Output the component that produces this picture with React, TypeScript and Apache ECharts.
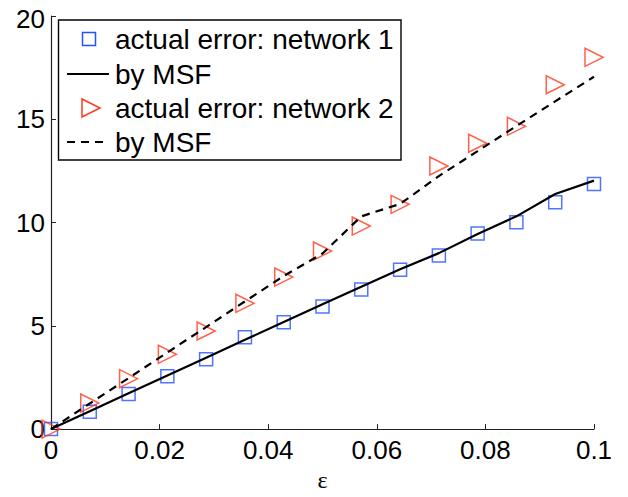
import React, { useEffect, useRef } from "react";
import * as echarts from "echarts";

const xValues = [0, 0.00714, 0.01429, 0.02143, 0.02857, 0.03571, 0.04286, 0.05, 0.05714, 0.06429, 0.07143, 0.07857, 0.08571, 0.09286, 0.1];
const net1Actual = [0, 0.84, 1.7, 2.56, 3.38, 4.45, 5.17, 5.93, 6.76, 7.71, 8.41, 9.47, 10.02, 10.98, 11.87];
const net1MSF = [0, 0.86, 1.73, 2.59, 3.46, 4.32, 5.19, 6.05, 6.89, 7.74, 8.52, 9.45, 10.3, 11.38, 12.03];
const net2Actual = [0, 1.26, 2.44, 3.62, 4.75, 6.09, 7.36, 8.62, 9.83, 10.88, 12.74, 13.84, 14.66, 16.67, 18.0];
const net2MSF = [0, 1.24, 2.47, 3.71, 4.94, 6.18, 7.41, 8.5, 10.3, 10.9, 12.25, 13.46, 14.67, 15.87, 17.06];

const legendLabels = ["actual error: network 1", "by MSF", "actual error: network 2", "by MSF"];
const xTicks = { min: 0, max: 0.1, interval: 0.02 };
const yTicks = { min: 0, max: 20, interval: 5 };
const xAxisTitle = "ε";

const BLUE = "#2353ff";
const RED = "#ff3a1c";
const FONT = "Liberation Sans, Arial, Helvetica, sans-serif";

const pairs = (ys: number[]) => xValues.map((x, i) => [x, ys[i]]);

export default function App() {
  const ref = useRef<HTMLDivElement>(null);
  useEffect(() => {
    document.body.style.margin = "0";
    if (!ref.current) return;
    const chart = echarts.init(ref.current, undefined, { renderer: "svg" });
    const rowY = [39, 74, 108, 142];
    const textX = 115;
    chart.setOption({
      animation: false,
      backgroundColor: "#fff",
      grid: { left: 51, right: 34, top: 13, bottom: 60, containLabel: false },
      xAxis: {
        type: "value",
        min: xTicks.min,
        max: xTicks.max,
        interval: xTicks.interval,
        name: xAxisTitle,
        nameLocation: "middle",
        nameGap: 25,
        nameTextStyle: { fontFamily: "Liberation Serif, serif", fontSize: 24, color: "#000" },
        axisLine: { show: true, lineStyle: { color: "#222", width: 1.2 } },
        axisTick: { show: true, inside: true, length: 5, lineStyle: { color: "#222" } },
        axisLabel: {
          fontFamily: FONT,
          fontSize: 26,
          color: "#000",
          margin: 8,
          formatter: (v: number) => String(parseFloat(v.toFixed(4))),
        },
        splitLine: { show: false },
      },
      yAxis: {
        type: "value",
        min: yTicks.min,
        max: yTicks.max,
        interval: yTicks.interval,
        axisLine: { show: true, lineStyle: { color: "#222", width: 1.2 } },
        axisTick: { show: true, inside: true, length: 5, lineStyle: { color: "#222" } },
        axisLabel: {
          fontFamily: FONT,
          fontSize: 26,
          lineHeight: 22,
          color: "#000",
          margin: 6,
          formatter: (v: number) => (v === yTicks.max ? `{top|${v}}` : String(v)),
          rich: {
            top: { fontFamily: FONT, fontSize: 26, lineHeight: 22, color: "#000", padding: [6, 0, 0, 0] },
          },
        },
        splitLine: { show: false },
      },
      series: [
        {
          name: legendLabels[0],
          type: "scatter",
          data: pairs(net1Actual),
          symbol: "rect",
          symbolSize: 13,
          clip: false,
          itemStyle: { color: "transparent", borderColor: BLUE, borderWidth: 1.5 },
          z: 2,
        },
        {
          name: legendLabels[1],
          type: "line",
          data: pairs(net1MSF),
          symbol: "none",
          clip: false,
          lineStyle: { color: "#000", width: 2.2 },
          z: 3,
        },
        {
          name: legendLabels[2],
          type: "scatter",
          data: pairs(net2Actual),
          symbol: "triangle",
          symbolRotate: -90,
          symbolSize: 18,
          clip: false,
          itemStyle: { color: "transparent", borderColor: RED, borderWidth: 1.5 },
          z: 2,
        },
        {
          name: legendLabels[3] + " ",
          type: "line",
          data: pairs(net2MSF),
          symbol: "none",
          clip: false,
          lineStyle: { color: "#000", width: 2.2, type: [8, 6] },
          z: 3,
        },
      ],
      graphic: [
        {
          type: "group",
          z: 100,
          children: [
            {
              type: "rect",
              shape: { x: 58.5, y: 20, width: 342.5, height: 140 },
              style: { fill: "#fff", stroke: "#000", lineWidth: 1.4 },
            },
            {
              type: "rect",
              shape: { x: 82.5, y: rowY[0] - 6.5, width: 13, height: 13 },
              style: { fill: "none", stroke: BLUE, lineWidth: 1.5 },
            },
            {
              type: "line",
              shape: { x1: 67, y1: rowY[1], x2: 109, y2: rowY[1] },
              style: { stroke: "#000", lineWidth: 2.2 },
            },
            {
              type: "polygon",
              shape: { points: [[82, rowY[2] - 9], [100, rowY[2]], [82, rowY[2] + 9]] },
              style: { fill: "none", stroke: RED, lineWidth: 1.5 },
            },
            {
              type: "line",
              shape: { x1: 67, y1: rowY[3], x2: 109, y2: rowY[3] },
              style: { stroke: "#000", lineWidth: 2.2, lineDash: [8, 6] },
            },
            ...legendLabels.map((t, i) => ({
              type: "text",
              x: textX,
              y: rowY[i],
              style: {
                text: t,
                fontFamily: FONT,
                fontSize: 28,
                fill: "#000",
                textVerticalAlign: "middle",
                verticalAlign: "middle",
                textAlign: "left",
              },
            })),
          ],
        },
      ],
    });
    return () => chart.dispose();
  }, []);
  return <div ref={ref} style={{ width: 628, height: 497 }} />;
}
